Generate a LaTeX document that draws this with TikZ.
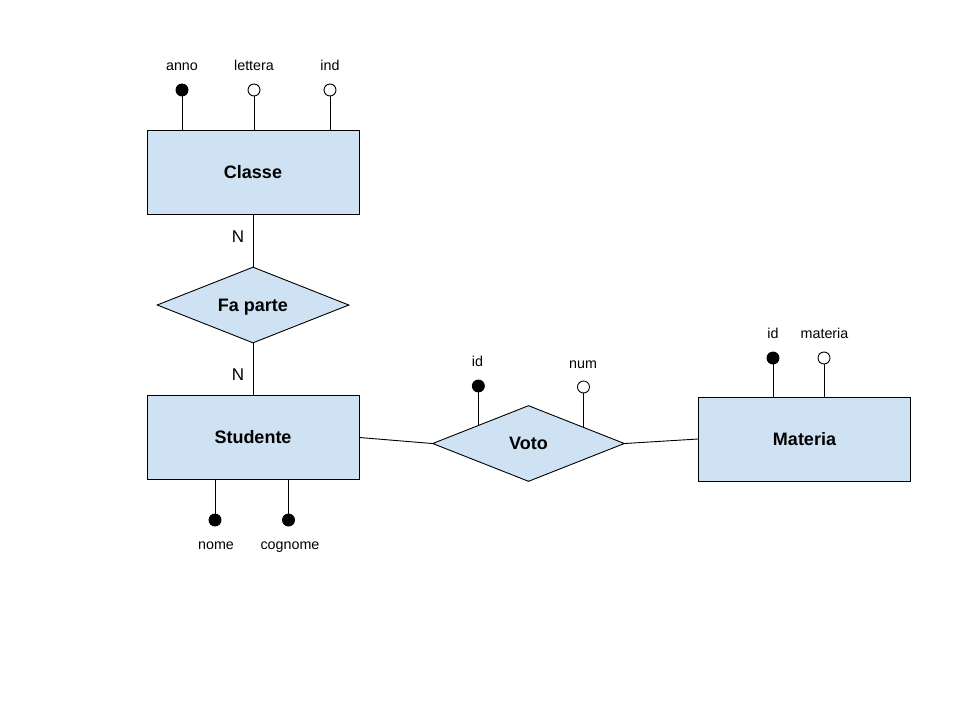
\documentclass[tikz,border=0pt]{standalone}
\usepackage{fontspec}
\setmainfont{Liberation Sans}
\usetikzlibrary{shapes.geometric,calc}
\definecolor{erfill}{RGB}{207,226,243}
\tikzset{
  entity/.style={draw=black, fill=erfill, line width=0.9pt, rectangle,
    minimum width=212pt, minimum height=84pt, inner sep=0pt,
    text height=12.9pt, text depth=0pt,
    font=\fontsize{18}{20}\selectfont\bfseries},
  relation/.style={draw=black, fill=erfill, line width=0.9pt, diamond,
    shape aspect=2.5, minimum width=192pt, minimum height=76pt, inner sep=0pt,
    text height=12.9pt, text depth=0pt,
    font=\fontsize{18}{20}\selectfont\bfseries},
  keyattr/.style={circle, draw=black, fill=black, line width=0.9pt,
    minimum size=12pt, inner sep=0pt},
  plainattr/.style={circle, draw=black, fill=white, line width=0.9pt,
    minimum size=12pt, inner sep=0pt},
  attrlabel/.style={inner sep=0pt, anchor=base, font=\fontsize{14.3}{16}\selectfont},
  cardlabel/.style={inner sep=0pt, anchor=base, font=\fontsize{17}{19}\selectfont},
  link/.style={draw=black, line width=0.9pt}
}
\begin{document}
\begin{tikzpicture}[x=1pt, y=-1pt]
\fill[white] (0,0) rectangle (960,720);
\useasboundingbox (0,0) rectangle (960,720);

% entities and relationships
\node[entity] (classe) at (253,172) {Classe};
\node[relation] (fa) at (253,305) {Fa parte};
\node[entity] (stud) at (253,437.5) {Studente};
\node[relation] (voto) at (528.5,443.5) {Voto};
\node[entity] (mat) at (804.5,439) {Materia};

% links between entities and relationships
\draw[link] (classe.south) -- (fa.north);
\draw[link] (fa.south) -- (stud.north);
\draw[link] (stud.east) -- (voto.west);
\draw[link] (voto.east) -- (mat.west);

% cardinalities
\node[cardlabel] (n1) at (238,242.5) {N};
\node[cardlabel] (n2) at (238,380) {N};

% Classe attributes
\node[keyattr] (anno) at (182,90) {};
\node[plainattr] (lettera) at (254,90) {};
\node[plainattr] (ind) at (330,90) {};
\draw[link] (anno) -- (anno |- classe.north);
\draw[link] (lettera) -- (lettera |- classe.north);
\draw[link] (ind) -- (ind |- classe.north);
\node[attrlabel] (annol) at (182,70) {anno};
\node[attrlabel] (letteral) at (254,70) {lettera};
\node[attrlabel] (indl) at (330,70) {ind};

% Studente attributes
\node[keyattr] (nome) at (215,520) {};
\node[keyattr] (cognome) at (288.5,520) {};
\draw[link] (nome) -- (nome |- stud.south);
\draw[link] (cognome) -- (cognome |- stud.south);
\node[attrlabel] (nomel) at (216,549) {nome};
\node[attrlabel] (cognomel) at (290,549) {cognome};

% Voto attributes
\coordinate (vidfoot) at ($(voto.north)!0.52!(voto.west)$);
\coordinate (vnumfoot) at ($(voto.north)!0.57!(voto.east)$);
\node[keyattr] (vid) at (vidfoot |- 0,386) {};
\node[plainattr] (vnum) at (vnumfoot |- 0,387) {};
\draw[link] (vid) -- (vidfoot);
\draw[link] (vnum) -- (vnumfoot);
\node[attrlabel] (vidl) at (477.5,366.5) {id};
\node[attrlabel] (vnuml) at (583,368) {num};

% Materia attributes
\node[keyattr] (mid) at (773,358) {};
\node[plainattr] (mmat) at (824,358) {};
\draw[link] (mid) -- (mid |- mat.north);
\draw[link] (mmat) -- (mmat |- mat.north);
\node[attrlabel] (midl) at (773,338) {id};
\node[attrlabel] (mmatl) at (824.5,338) {materia};
\end{tikzpicture}
\end{document}
